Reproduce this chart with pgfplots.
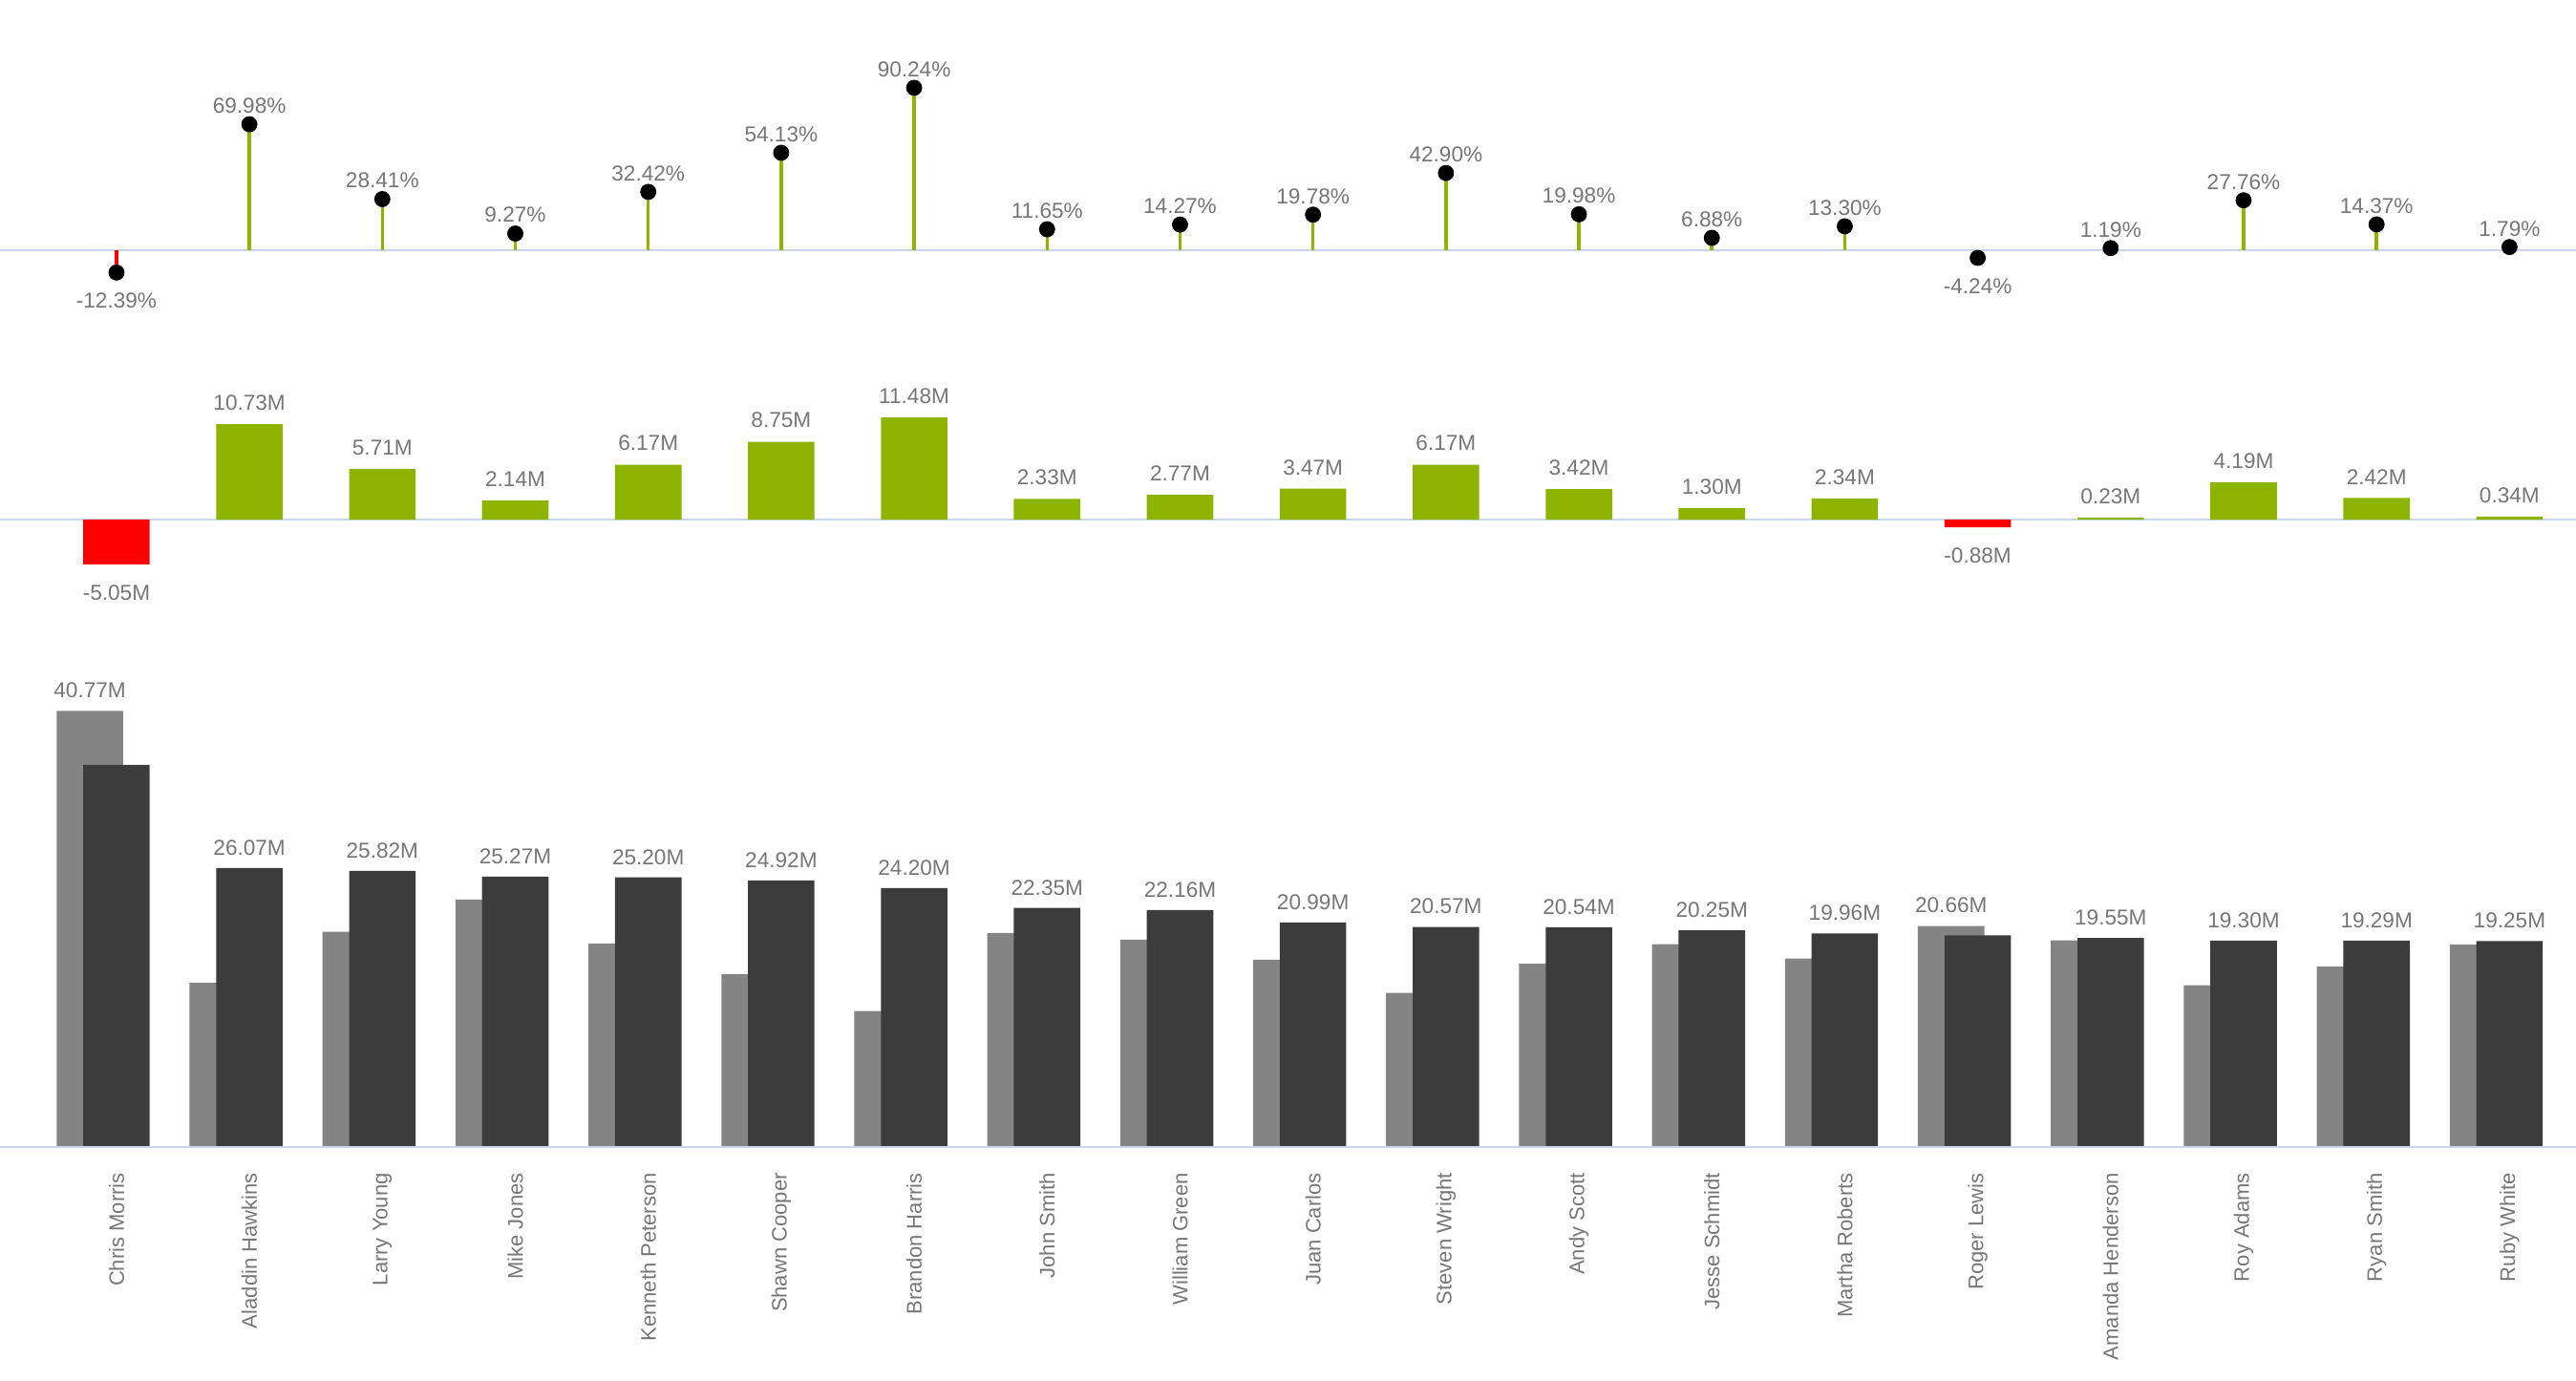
\documentclass[border=0pt]{standalone}
\usepackage{fontspec}
\setmainfont{Liberation Sans}
\usepackage{pgfplots}
\pgfplotsset{compat=1.18}
\usepackage{pgfplotstable}
\definecolor{cpos}{HTML}{8CB400}
\definecolor{cneg}{HTML}{FF0000}
\definecolor{cpy}{HTML}{848484}
\definecolor{cac}{HTML}{3C3C3C}
\definecolor{cbase}{HTML}{C9D5EB}
\definecolor{clbl}{HTML}{767676}

\pgfplotstableread{
x y
1 69.98
2 28.41
3 9.27
4 32.42
5 54.13
6 90.24
7 11.65
8 14.27
9 19.78
10 42.90
11 19.98
12 6.88
13 13.30
15 1.19
16 27.76
17 14.37
18 1.79
}\pctpos
\pgfplotstableread{
x y
0 -12.39
14 -4.24
}\pctneg

\pgfplotstableread{
x y
1 10.73
2 5.71
3 2.14
4 6.17
5 8.75
6 11.48
7 2.33
8 2.77
9 3.47
10 6.17
11 3.42
12 1.30
13 2.34
15 0.23
16 4.19
17 2.42
18 0.34
}\diffpos
\pgfplotstableread{
x y
0 -5.05
14 -0.88
}\diffneg

\pgfplotstableread{
x ac py lx ly
0 35.72 40.77 -0.2 40.77
1 26.07 15.34 1 26.07
2 25.82 20.11 2 25.82
3 25.27 23.13 3 25.27
4 25.20 19.03 4 25.20
5 24.92 16.17 5 24.92
6 24.20 12.72 6 24.20
7 22.35 20.02 7 22.35
8 22.16 19.39 8 22.16
9 20.99 17.52 9 20.99
10 20.57 14.40 10 20.57
11 20.54 17.12 11 20.54
12 20.25 18.95 12 20.25
13 19.96 17.62 13 19.96
14 19.78 20.66 13.8 20.66
15 19.55 19.32 15 19.55
16 19.30 15.11 16 19.30
17 19.29 16.87 17 19.29
18 19.25 18.91 18 19.25
}\bottom

\pgfplotstableread[col sep=comma]{
x,name
0,Chris Morris
1,Aladdin Hawkins
2,Larry Young
3,Mike Jones
4,Kenneth Peterson
5,Shawn Cooper
6,Brandon Harris
7,John Smith
8,William Green
9,Juan Carlos
10,Steven Wright
11,Andy Scott
12,Jesse Schmidt
13,Martha Roberts
14,Roger Lewis
15,Amanda Henderson
16,Roy Adams
17,Ryan Smith
18,Ruby White
}\names

\pgfplotsset{
  panel/.style={scale only axis, width=1348.5pt, xmin=-0.876, xmax=18.5, hide axis, clip=false},
}
\tikzset{vallbl/.style={inner sep=0pt, text=clbl, font=\fontsize{11.3}{13}\selectfont}}

\begin{document}
\begin{tikzpicture}
\useasboundingbox (0,0) rectangle (1348.5pt,-722.5pt);

% Top: percentage lollipops
\begin{axis}[panel, at={(0pt,0pt)}, anchor=north west, height=200pt, ymin=-73.2, ymax=139.0]
\addplot[cbase, line width=1pt] coordinates {(-0.876,0) (18.5,0)};
\addplot[ycomb, color=cpos, line width=1.75pt, mark=none] table {\pctpos};
\addplot[ycomb, color=cneg, line width=1.75pt, mark=none] table {\pctneg};
\addplot[only marks, mark=*, mark size=4pt, mark options={fill=black, draw=black},
  point meta=y,
  nodes near coords={\pgfmathprintnumber[fixed,fixed zerofill,precision=2,assume math mode=true]{\pgfplotspointmeta}\%},
  nodes near coords style={vallbl, anchor=south, yshift=5.5pt}] table {\pctpos};
\addplot[only marks, mark=*, mark size=4pt, mark options={fill=black, draw=black},
  point meta=y,
  nodes near coords={\pgfmathprintnumber[fixed,fixed zerofill,precision=2,assume math mode=true]{\pgfplotspointmeta}\%},
  nodes near coords style={vallbl, anchor=north, yshift=-10.5pt}] table {\pctneg};
\end{axis}

% Middle: absolute difference
\begin{axis}[panel, at={(0pt,-200pt)}, anchor=north west, height=150pt, ymin=-16.77, ymax=15.48]
\addplot[cbase, line width=1pt] coordinates {(-0.876,0) (18.5,0)};
\addplot[ybar, bar width=0.5, bar shift=0, fill=cpos, draw=none,
  point meta=y,
  nodes near coords={\pgfmathprintnumber[fixed,fixed zerofill,precision=2,assume math mode=true]{\pgfplotspointmeta}M},
  nodes near coords style={vallbl, anchor=south, yshift=7pt}] table {\diffpos};
\addplot[ybar, bar width=0.5, bar shift=0, fill=cneg, draw=none,
  point meta=y,
  nodes near coords={\pgfmathprintnumber[fixed,fixed zerofill,precision=2,assume math mode=true]{\pgfplotspointmeta}M},
  nodes near coords style={vallbl, anchor=north, yshift=-10.5pt}] table {\diffneg};
\end{axis}

% Bottom: PY vs AC
\begin{axis}[panel, at={(0pt,-350pt)}, anchor=north west, height=372.5pt, ymin=-21.79, ymax=44.73]
\addplot[ybar, bar width=0.5, bar shift=-0.2, fill=cpy, draw=none] table[x=x, y=py] {\bottom};
\addplot[ybar, bar width=0.5, bar shift=0, fill=cac, draw=none] table[x=x, y=ac] {\bottom};
\addplot[cbase, line width=1pt] coordinates {(-0.876,0) (18.5,0)};
\addplot[draw=none, mark=none, point meta=y,
  nodes near coords={\pgfmathprintnumber[fixed,fixed zerofill,precision=2,assume math mode=true]{\pgfplotspointmeta}M},
  nodes near coords style={vallbl, anchor=south, yshift=6.5pt}] table[x=lx, y=ly] {\bottom};
\addplot[draw=none, mark=none, point meta=explicit symbolic, nodes near coords,
  nodes near coords style={yshift=-13.5pt, rotate=90, anchor=east, inner sep=0pt, text=clbl, font=\fontsize{11}{13}\selectfont}]
  table[x=x, y expr=0, meta=name] {\names};
\end{axis}
\end{tikzpicture}
\end{document}
